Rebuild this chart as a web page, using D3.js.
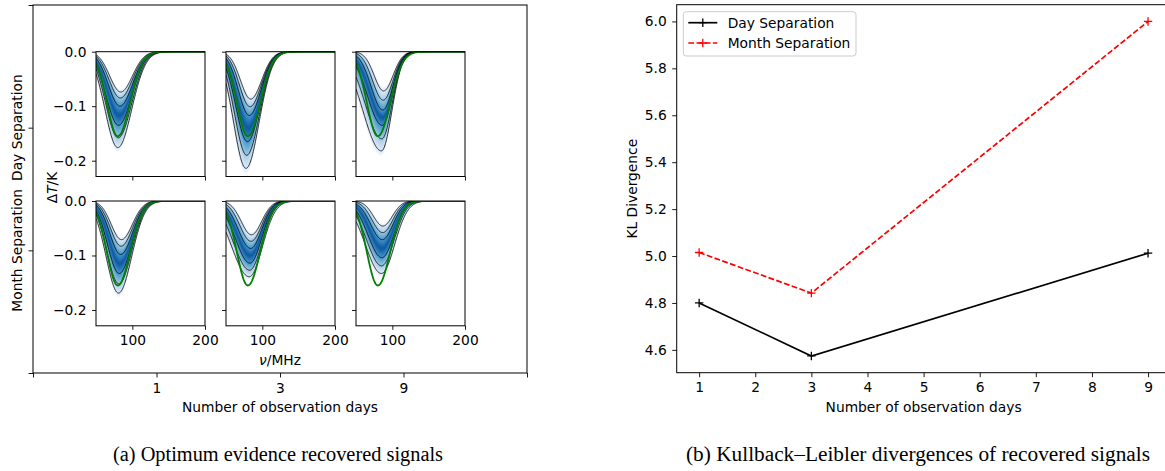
<!DOCTYPE html>
<html>
<head>
<meta charset="utf-8">
<script src="https://cdn.jsdelivr.net/npm/d3@7"></script>
<style>
  body { margin: 0; background: #fff; }
  svg { display: block; }
  text { font-family: "DejaVu Sans", sans-serif; fill: #000; }
  .caption { font-family: "Liberation Serif", "Times New Roman", serif; }
</style>
</head>
<body>
<svg id="fig" width="1165" height="471"></svg>
<script>
// ---------------- data ----------------
const obsDays = [1, 3, 9];
const separations = ["Day Separation", "Month Separation"];
const dayKL = [4.800, 4.574, 5.012];
const monthKL = [5.015, 4.842, 6.000];
const klTicksX = [1, 2, 3, 4, 5, 6, 7, 8, 9];
const klTicksY = [4.6, 4.8, 5.0, 5.2, 5.4, 5.6, 5.8, 6.0];
const freqTicks = [100, 200];
const tempTicks = [0.0, -0.1, -0.2];
const sigmaLevels = [-3, -2, -1, 0, 1, 2, 3];

// recovered-signal contours, one row per panel
// (day 1, day 3, day 9, month 1, month 3, month 9), shallow -> deep
const contourDepth = [
  [0.074, 0.085, 0.100, 0.117, 0.135, 0.158, 0.176],
  [0.087, 0.101, 0.117, 0.140, 0.165, 0.190, 0.214],
  [0.072, 0.089, 0.107, 0.121, 0.135, 0.160, 0.182],
  [0.071, 0.083, 0.098, 0.115, 0.133, 0.152, 0.169],
  [0.062, 0.074, 0.087, 0.100, 0.114, 0.127, 0.139],
  [0.046, 0.058, 0.071, 0.087, 0.104, 0.119, 0.133]
];
const contourCentre = [
  [84.0, 83.5, 83.0, 82.0, 81.0, 80.5, 80.0],
  [84.0, 83.0, 82.0, 80.5, 79.5, 78.5, 77.5],
  [88.0, 87.5, 87.0, 86.5, 86.0, 85.5, 85.0],
  [85.0, 84.5, 84.0, 83.0, 82.0, 81.5, 81.0],
  [85.0, 84.5, 84.0, 83.5, 83.0, 82.5, 82.0],
  [87.0, 86.7, 86.3, 86.0, 85.7, 85.3, 85.0]
];
const contourWidthLow = [
  [15.0, 15.5, 16.0, 16.5, 17.0, 17.0, 17.5],
  [14.0, 14.5, 15.0, 15.5, 16.0, 16.5, 17.0],
  [13.0, 14.5, 16.0, 18.0, 20.0, 22.5, 25.0],
  [14.0, 14.5, 15.0, 15.5, 16.0, 16.5, 17.0],
  [14.0, 15.5, 17.0, 18.5, 20.0, 22.0, 24.0],
  [13.0, 14.5, 16.0, 17.5, 19.0, 20.5, 22.0]
];
const contourWidthHigh = [
  [16.0, 16.5, 17.0, 17.5, 18.0, 18.5, 19.0],
  [15.0, 15.5, 16.0, 16.5, 17.0, 17.5, 18.0],
  [13.0, 13.2, 13.4, 13.6, 13.8, 14.0, 14.2],
  [15.0, 15.5, 16.0, 16.5, 17.0, 17.5, 18.0],
  [14.0, 14.5, 15.0, 15.5, 16.0, 17.0, 18.0],
  [13.0, 13.8, 14.6, 15.4, 16.2, 17.0, 18.0]
];
// injected 21-cm absorption trough
const trueDepth = 0.155, trueCentre = 80, trueWidthLow = 15, trueWidthHigh = 17;

// ---------------- helpers ----------------
const svg = d3.select("#fig");
const FS = 13.8;

function trough(nu, A, c, wl, wh) {
  const w = nu < c ? wl : wh;
  return -A * Math.exp(-((nu - c) ** 2) / (2 * w * w));
}
// contour parameters at a (possibly fractional) sigma level
function levelParams(p, s) {
  const idx = s + 3;
  const i = Math.max(0, Math.min(5, Math.floor(idx)));
  const f = idx - i;
  const lerp = arr => arr[p][i] + (arr[p][i + 1] - arr[p][i]) * f;
  return [lerp(contourDepth), lerp(contourCentre), lerp(contourWidthLow), lerp(contourWidthHigh)];
}
const nuGrid = d3.range(50, 200.01, 0.5);

function styleAxis(g) {
  g.select(".domain").remove();
  g.selectAll(".tick line").attr("stroke", "#000").attr("stroke-width", 0.9);
  g.selectAll(".tick text").attr("font-size", FS).attr("font-family", "DejaVu Sans").attr("fill", "#000");
}

// ---------------- (a) outer frame ----------------
const outer = { x0: 33, x1: 527, y0: 5, y1: 373 };
const outerX = d3.scaleLinear().domain([0, 4]).range([outer.x0, outer.x1]);
const outerY = d3.scaleLinear().domain([0, 3]).range([outer.y0, outer.y1]);

svg.append("g").attr("transform", `translate(0,${outer.y1})`)
  .call(d3.axisBottom(outerX).tickValues([0, 1, 2, 3, 4]).tickSize(4.5).tickPadding(5.5)
    .tickFormat(i => (i >= 1 && i <= 3) ? obsDays[i - 1] : ""))
  .call(styleAxis);
svg.append("g").attr("transform", `translate(${outer.x0},0)`)
  .call(d3.axisLeft(outerY).tickValues([0, 1, 2, 3]).tickSize(4.5).tickFormat(""))
  .call(styleAxis);
separations.forEach((lab, i) => {
  svg.append("text")
    .attr("transform", `translate(16.7,${outerY(i + 1)}) rotate(-90)`)
    .attr("text-anchor", "middle").attr("dy", "0.35em").attr("font-size", FS)
    .text(lab);
});
svg.append("rect").attr("x", outer.x0).attr("y", outer.y0)
  .attr("width", outer.x1 - outer.x0).attr("height", outer.y1 - outer.y0)
  .attr("fill", "none").attr("stroke", "#000").attr("stroke-width", 1);
svg.append("text").attr("x", 280).attr("y", 411.8).attr("text-anchor", "middle")
  .attr("font-size", FS).text("Number of observation days");

// ---------------- (a) small multiples ----------------
const colX = [96, 226, 356], panelW = 109;
const rowY = [51.7, 201], panelH = 124.8;
const sigmaColor = t => d3.interpolateBlues(Math.max(0, 0.86 - 0.24 * t));

for (let r = 0; r < 2; r++) {
  for (let c = 0; c < 3; c++) {
    const p = r * 3 + c;
    const x = d3.scaleLinear().domain([50, 200]).range([colX[c], colX[c] + panelW]);
    const y = d3.scaleLinear().domain([-0.229, 0.0]).range([rowY[r] + panelH, rowY[r]]);
    const clipId = `clip${p}`;
    svg.append("clipPath").attr("id", clipId).append("rect")
      .attr("x", colX[c]).attr("y", rowY[r]).attr("width", panelW).attr("height", panelH);
    const g = svg.append("g").attr("clip-path", `url(#${clipId})`);

    // nested credible-interval fills, outermost first
    const steps = d3.range(34, 0, -1).map(k => k / 10);
    steps.forEach(t => {
      const lo = levelParams(p, -t), hi = levelParams(p, t);
      const area = d3.area()
        .x(nu => x(nu))
        .y0(nu => y(trough(nu, ...lo)))
        .y1(nu => y(trough(nu, ...hi)));
      g.append("path").attr("d", area(nuGrid)).attr("fill", sigmaColor(t));
    });

    // sigma contour lines
    sigmaLevels.filter(k => k !== 0).forEach(k => {
      const pr = levelParams(p, k);
      const line = d3.line().x(nu => x(nu)).y(nu => y(trough(nu, ...pr)));
      g.append("path").attr("d", line(nuGrid)).attr("fill", "none")
        .attr("stroke", "#000").attr("stroke-width", 0.8);
    });

    // injected signal
    const trueLine = d3.line().x(nu => x(nu))
      .y(nu => y(trough(nu, trueDepth, trueCentre, trueWidthLow, trueWidthHigh)));
    g.append("path").attr("d", trueLine(nuGrid)).attr("fill", "none")
      .attr("stroke", "#008000").attr("stroke-width", 1.8);

    // axes
    svg.append("g").attr("transform", `translate(0,${rowY[r] + panelH})`)
      .call(d3.axisBottom(x).tickValues(freqTicks).tickSize(4).tickPadding(5.5)
        .tickFormat(r === 1 ? d3.format("d") : ""))
      .call(styleAxis);
    svg.append("g").attr("transform", `translate(${colX[c]},0)`)
      .call(d3.axisLeft(y).tickValues(tempTicks).tickSize(4).tickPadding(5.5)
        .tickFormat(c === 0 ? d3.format(".1f") : ""))
      .call(styleAxis);
    svg.append("rect").attr("x", colX[c]).attr("y", rowY[r])
      .attr("width", panelW).attr("height", panelH)
      .attr("fill", "none").attr("stroke", "#000").attr("stroke-width", 1);
  }
}
// shared labels
const nuLab = svg.append("text").attr("x", 280).attr("y", 364.8).attr("text-anchor", "middle").attr("font-size", FS);
nuLab.append("tspan").attr("font-style", "italic").text("ν");
nuLab.append("tspan").text("/MHz");
const tLab = svg.append("text").attr("transform", "translate(51.7,187.5) rotate(-90)")
  .attr("text-anchor", "middle").attr("dy", "0.35em").attr("font-size", FS);
tLab.append("tspan").text("Δ");
tLab.append("tspan").attr("font-style", "italic").text("T");
tLab.append("tspan").text("/K");

// ---------------- (b) KL divergence ----------------
const kl = { x0: 676.7, x1: 1170.5, y0: 4.7, y1: 372.7 };
const allKL = dayKL.concat(monthKL);
const klMin = d3.min(allKL), klMax = d3.max(allKL), pad = (klMax - klMin) * 0.05;
const kx = d3.scaleLinear().domain([0.6, 9.4]).range([kl.x0, kl.x1]);
const ky = d3.scaleLinear().domain([klMin - pad, klMax + pad]).range([kl.y1, kl.y0]);

svg.append("g").attr("transform", `translate(0,${kl.y1})`)
  .call(d3.axisBottom(kx).tickValues(klTicksX).tickSize(4.5).tickPadding(5.5).tickFormat(d3.format("d")))
  .call(styleAxis);
svg.append("g").attr("transform", `translate(${kl.x0},0)`)
  .call(d3.axisLeft(ky).tickValues(klTicksY).tickSize(4.5).tickPadding(5.5).tickFormat(d3.format(".1f")))
  .call(styleAxis);
svg.append("rect").attr("x", kl.x0).attr("y", kl.y0)
  .attr("width", kl.x1 - kl.x0).attr("height", kl.y1 - kl.y0)
  .attr("fill", "none").attr("stroke", "#000").attr("stroke-width", 1);

const plus = "M-4.2,0H4.2M0,-4.2V4.2";
const series = [
  { name: "Day Separation", values: dayKL, color: "#000", dash: null },
  { name: "Month Separation", values: monthKL, color: "#ff0000", dash: "5.8,2.4" }
];
series.forEach(s => {
  const line = d3.line().x((v, i) => kx(obsDays[i])).y(v => ky(v));
  svg.append("path").attr("d", line(s.values)).attr("fill", "none")
    .attr("stroke", s.color).attr("stroke-width", 1.7)
    .attr("stroke-dasharray", s.dash);
  svg.selectAll(null).data(s.values).enter().append("path")
    .attr("transform", (v, i) => `translate(${kx(obsDays[i])},${ky(v)})`)
    .attr("d", plus).attr("stroke", s.color).attr("stroke-width", 1.3);
});

svg.append("text").attr("transform", `translate(631.7,${(kl.y0 + kl.y1) / 2}) rotate(-90)`)
  .attr("text-anchor", "middle").attr("dy", "0.35em").attr("font-size", FS).text("KL Divergence");
svg.append("text").attr("x", 923.6).attr("y", 411.8).attr("text-anchor", "middle")
  .attr("font-size", FS).text("Number of observation days");

// legend
const leg = svg.append("g");
leg.append("rect").attr("x", 683.3).attr("y", 11.7).attr("width", 172.7).attr("height", 44.3)
  .attr("rx", 3).attr("fill", "#fff").attr("fill-opacity", 0.8)
  .attr("stroke", "#cccccc").attr("stroke-width", 1);
series.forEach((s, i) => {
  const yy = 22.7 + i * 20.3;
  leg.append("line").attr("x1", 688.3).attr("x2", 717.3).attr("y1", yy).attr("y2", yy)
    .attr("stroke", s.color).attr("stroke-width", 1.7).attr("stroke-dasharray", s.dash);
  leg.append("path").attr("transform", `translate(702.8,${yy})`).attr("d", plus)
    .attr("stroke", s.color).attr("stroke-width", 1.3);
  leg.append("text").attr("x", 727.7).attr("y", yy).attr("dy", "0.35em")
    .attr("font-size", FS).text(s.name);
});

// ---------------- captions ----------------
svg.append("text").attr("class", "caption").attr("x", 278).attr("y", 461)
  .attr("text-anchor", "middle").attr("font-size", 20)
  .attr("textLength", 330).attr("lengthAdjust", "spacingAndGlyphs")
  .text("(a) Optimum evidence recovered signals");
svg.append("text").attr("class", "caption").attr("x", 918).attr("y", 461)
  .attr("text-anchor", "middle").attr("font-size", 20)
  .attr("textLength", 464).attr("lengthAdjust", "spacingAndGlyphs")
  .text("(b) Kullback–Leibler divergences of recovered signals");
</script>
</body>
</html>
